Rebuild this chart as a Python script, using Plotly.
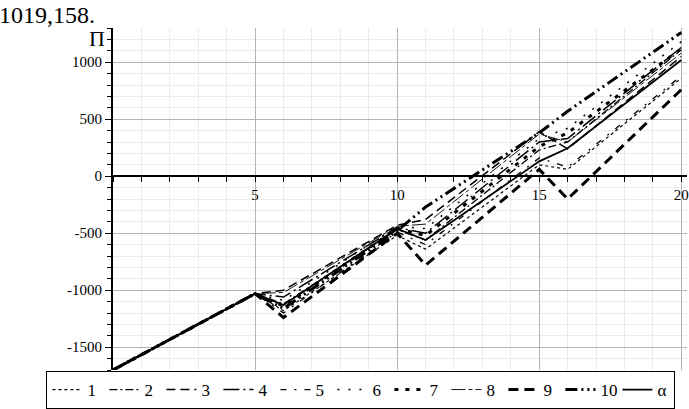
import plotly.graph_objects as go

# breakpoints on the horizontal axis
x_pts = [0, 5, 6, 10, 11, 15, 16, 20]

# values for every curve
p1 = [-1700, -1030, -1180, -520, -640, 100, 60, 860]
p2 = [-1700, -1030, -1120, -470, -560, 230, 300, 1110]
p3 = [-1700, -1030, -1000, -430, -380, 390, 240, 1050]
p4 = [-1700, -1030, -1060, -450, -500, 300, 330, 1130]
p5 = [-1700, -1030, -1200, -490, -600, 160, 80, 880]
p6 = [-1700, -1030, -1090, -440, -460, 330, 420, 1180]
p7 = [-1700, -1030, -1140, -460, -520, 260, 380, 1120]
p8 = [-1700, -1030, -1020, -440, -420, 370, 300, 1080]
p9 = [-1700, -1030, -1240, -500, -780, 60, -200, 760]
p10 = [-1700, -1030, -1160, -480, -270, 380, 570, 1260]
p_alpha = [-1700, -1030, -1130, -460, -560, 130, 245, 1019.158]

names = ["1", "2", "3", "4", "5", "6", "7", "8", "9", "10", "α"]
series = [p1, p2, p3, p4, p5, p6, p7, p8, p9, p10, p_alpha]

x_tickvals = [5, 10, 15, 20]
y_tickvals = [1000, 500, 0, -500, -1000, -1500]
y_ticktext = ["1000", "500", "0", "-500", "-1000", "-1500"]

styles = [
    dict(dash="dot", width=1.2),
    dict(dash="8px,3px,2px,3px", width=1.3),
    dict(dash="9px,5px", width=1.5),
    dict(dash="16px,4px,2px,4px", width=1.5),
    dict(dash="6px,8px,2px,8px", width=1.3),
    dict(dash="2px,9px", width=1.5),
    dict(dash="4px,7px", width=3),
    dict(dash="14px,3px,4px,3px", width=0.9),
    dict(dash="10px,6px", width=3),
    dict(dash="12px,4px,2px,4px,2px,4px", width=3),
    dict(dash="solid", width=1.8),
]

serif = "Liberation Serif, Times New Roman, serif"

fig = go.Figure()
for name, vals, st in zip(names, series, styles):
    fig.add_trace(go.Scatter(
        x=x_pts, y=vals, name=name, mode="lines",
        line=dict(color="black", width=st["width"], dash=st["dash"]),
    ))

y_lo, y_hi = -1700, 1300

fig.update_layout(
    width=689, height=409,
    margin=dict(l=113, r=0, t=28, b=27),
    paper_bgcolor="white",
    plot_bgcolor="white",
    font=dict(family=serif, color="black", size=14),
    xaxis=dict(
        range=[0, 20.2],
        tickvals=x_tickvals,
        showgrid=True, gridcolor="#b4b4b4", gridwidth=1,
        zeroline=False,
        showline=True, linecolor="black", linewidth=1.5,
        ticks="outside", ticklen=5, tickcolor="black",
        anchor="free", position=(0 - y_lo) / (y_hi - y_lo),
        minor=dict(dtick=1, showgrid=True, gridcolor="#ebebeb",
                   ticks="outside", ticklen=5, tickcolor="black"),
        tickfont=dict(family=serif, size=15),
        ticklabeloverflow="allow",
    ),
    yaxis=dict(
        range=[y_lo, y_hi],
        tickvals=y_tickvals, ticktext=y_ticktext,
        showgrid=True, gridcolor="#b4b4b4", gridwidth=1,
        zeroline=False,
        showline=True, linecolor="black", linewidth=2,
        ticks="outside", ticklen=6, tickcolor="black",
        minor=dict(dtick=100, showgrid=True, gridcolor="#ebebeb",
                   ticks="outside", ticklen=4, tickcolor="black"),
        tickfont=dict(family=serif, size=15),
    ),
    legend=dict(
        orientation="h",
        x=-0.116, xanchor="left",
        y=-0.004, yanchor="top",
        bordercolor="black", borderwidth=1,
        bgcolor="white",
        font=dict(family=serif, size=17),
        itemwidth=30,
        entrywidth=12, entrywidthmode="pixels",
        tracegroupgap=0,
    ),
    annotations=[
        dict(text="Π", x=-0.01, y=1.0, xref="paper", yref="paper",
             xanchor="right", yanchor="top", showarrow=False, yshift=4,
             font=dict(family=serif, size=22)),
        dict(text="1019,158.", x=-113 / 576, y=1 + 28 / 354, xref="paper", yref="paper",
             xanchor="left", yanchor="top", showarrow=False, xshift=-3, yshift=1,
             font=dict(family=serif, size=24)),
    ],
)

# drop the page's default body margin so the figure sits at the window corner
fig.write_html("out.html", config={"displayModeBar": False},
               post_script="document.body.style.margin='0';")
